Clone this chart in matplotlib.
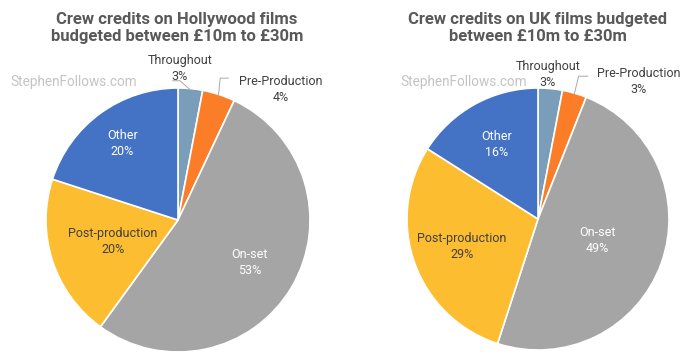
import numpy as np
import matplotlib
matplotlib.use('Agg')
import matplotlib.pyplot as plt

plt.rcParams['font.family'] = ['Roboto', 'DejaVu Sans']

# 数据
categories = ['Throughout', 'Pre-Production', 'On-set', 'Post-production', 'Other']
hollywood = [3, 4, 53, 20, 20]
uk = [3, 3, 49, 29, 16]
titles = ['Crew credits on Hollywood films\nbudgeted between £10m to £30m',
          'Crew credits on UK films budgeted\nbetween £10m to £30m']

colors = ['#7a9eba', '#fb7d27', '#a5a5a5', '#fdbd30', '#4472c4']
text_cols = ['#404040', '#404040', 'white', '#404040', 'white']

W, H = 700, 361
fig = plt.figure(figsize=(W / 100, H / 100), dpi=100)


def draw_pie(cx, cy, r, values, inner_dist, outer_pos, leaders):
    ax = fig.add_axes([(cx - r) / W, (H - cy - r) / H, 2 * r / W, 2 * r / H])
    wedges, _ = ax.pie(values, colors=colors, startangle=90, counterclock=False,
                       wedgeprops=dict(edgecolor='white', linewidth=1.2))
    ax.set_xlim(-1, 1)
    ax.set_ylim(-1, 1)
    ax.set_aspect('equal')
    for i, w in enumerate(wedges):
        mid = np.deg2rad((w.theta1 + w.theta2) / 2)
        label = '%s\n%d%%' % (categories[i], values[i])
        if i in outer_pos:
            tx, ty = outer_pos[i]
            ax.text(tx, ty, label, ha='center', va='center', fontsize=9,
                    color='#404040', linespacing=1.3, clip_on=False)
            if leaders.get(i):
                px, py = leaders[i]
                ex, ey = np.cos(mid), np.sin(mid)
                ax.plot([px[0], px[1], ex * 0.99], [py[0], py[1], ey * 0.99],
                        color='#a8a8a8', lw=0.7, clip_on=False)
        else:
            d = inner_dist[i]
            ax.text(d * np.cos(mid), d * np.sin(mid), label, ha='center', va='center',
                    fontsize=9, color=text_cols[i], linespacing=1.3)
    return ax


draw_pie(178, 220, 132, hollywood,
         {2: 0.63, 3: 0.52, 4: 0.72},
         {0: (0.015, 1.145), 1: (0.78, 0.99)},
         {0: ([-0.04, 0.015], [1.055, 1.055]), 1: ([0.38, 0.32], [1.075, 1.075])})
draw_pie(538, 219, 131, uk,
         {2: 0.48, 3: 0.62, 4: 0.65},
         {0: (0.076, 1.10), 1: (0.77, 1.05)},
         {1: ([0.38, 0.31], [1.09, 1.09])})

fig.text(177 / W, 1 - 28 / H, titles[0], ha='center', va='center', fontsize=12,
         fontweight='bold', color='#595959', linespacing=1.2)
fig.text(538 / W, 1 - 28 / H, titles[1], ha='center', va='center', fontsize=12,
         fontweight='bold', color='#595959', linespacing=1.2)

fig.text(10 / W, 1 - 82 / H, 'StephenFollows.com', ha='left', va='center', fontsize=9.8,
         color='#c4c4c4')
fig.text(400 / W, 1 - 82 / H, 'StephenFollows.com', ha='left', va='center', fontsize=9.8,
         color='#c4c4c4')

fig.savefig('out.png', dpi=100, facecolor='white')
